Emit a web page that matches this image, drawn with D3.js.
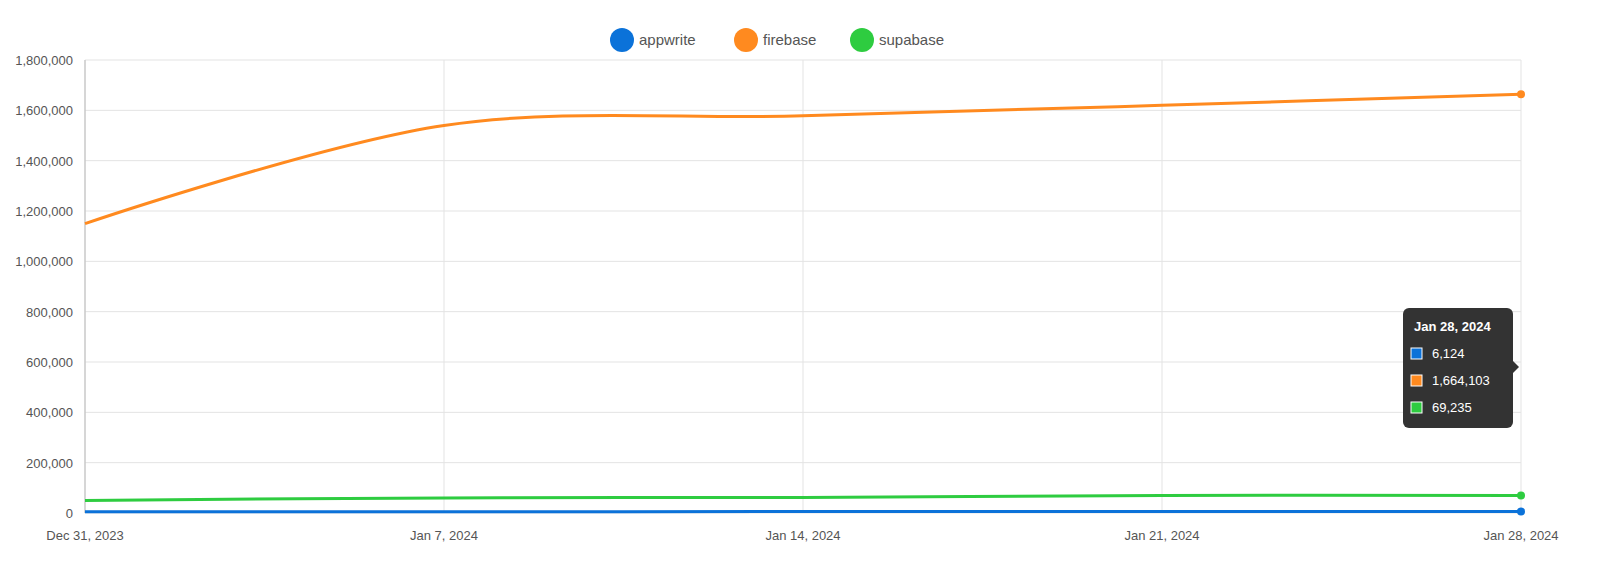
<!DOCTYPE html>
<html><head><meta charset="utf-8">
<script src="https://cdn.jsdelivr.net/npm/d3@7"></script>
<style>body{margin:0;background:#fff;font-family:"Helvetica Neue",Arial,"Liberation Sans",sans-serif;}</style>
</head><body><svg width="1600" height="562"></svg>
<script>
const dates = ["2023-12-31","2024-01-07","2024-01-14","2024-01-21","2024-01-28"];
const seriesNames = ["appwrite","firebase","supabase"];
const colors = ["#0b72d9","#ff8a1f","#2ecc40"];
const appwrite = [4800, 5200, 5600, 6000, 6124];
const firebase = [1150000, 1540000, 1578000, 1620000, 1664103];
const supabase = [50000, 60000, 62000, 70000, 69235];
const yTicks = [0,200000,400000,600000,800000,1000000,1200000,1400000,1600000,1800000];

const parse = d3.timeParse("%Y-%m-%d");
const dts = dates.map(parse);
const values = [appwrite, firebase, supabase];
const svg = d3.select('svg');
const x = d3.scaleTime().domain(d3.extent(dts)).range([85, 1521]);
const y = d3.scaleLinear().domain([0, 1800000]).range([513, 60]);
const fmtDate = d3.timeFormat("%b %-d, %Y");
const fmtNum = d3.format(",");

// grid
svg.append('g').selectAll('line').data(yTicks).join('line')
  .attr('x1', 85).attr('x2', 1521).attr('y1', d => y(d)).attr('y2', d => y(d))
  .attr('stroke', '#e3e3e3');
svg.append('g').selectAll('line').data(dts).join('line')
  .attr('x1', d => x(d)).attr('x2', d => x(d)).attr('y1', 60).attr('y2', 513)
  .attr('stroke', '#e3e3e3');
svg.append('line').attr('x1', 85).attr('x2', 85).attr('y1', 60).attr('y2', 513).attr('stroke', '#bbb');

// axes
svg.append('g').selectAll('text').data(yTicks).join('text')
  .attr('x', 73).attr('y', d => y(d) + 5).attr('text-anchor', 'end')
  .attr('font-size', 13).attr('fill', '#555').text(d => fmtNum(d));
svg.append('g').selectAll('text').data(dts).join('text')
  .attr('x', d => x(d)).attr('y', 540).attr('text-anchor', 'middle')
  .attr('font-size', 13).attr('fill', '#555').text(d => fmtDate(d));

// lines
const line = d3.line().x((d, i) => x(dts[i])).y(d => y(d)).curve(d3.curveCatmullRom);
values.forEach((v, k) => {
  svg.append('path').attr('d', line(v)).attr('fill', 'none')
    .attr('stroke', colors[k]).attr('stroke-width', 3);
  svg.append('circle').attr('cx', x(dts[4])).attr('cy', y(v[4])).attr('r', 4).attr('fill', colors[k]);
});

// legend
const legX = [622, 746, 862];
seriesNames.forEach((n, k) => {
  svg.append('circle').attr('cx', legX[k]).attr('cy', 40).attr('r', 12).attr('fill', colors[k]);
  svg.append('text').attr('x', legX[k] + 17).attr('y', 45).attr('font-size', 15).attr('fill', '#555').text(n);
});

// tooltip
const tt = svg.append('g').attr('transform', 'translate(1403,308)');
tt.append('rect').attr('width', 110).attr('height', 120).attr('rx', 6).attr('fill', '#333');
tt.append('path').attr('d', 'M110,53 L116,59 L110,65 Z').attr('fill', '#333');
tt.append('text').attr('x', 11).attr('y', 23).attr('fill', '#fff').attr('font-size', 13)
  .attr('font-weight', 'bold').text(fmtDate(dts[4]));
values.forEach((v, k) => {
  tt.append('rect').attr('x', 8).attr('y', 40 + k * 27).attr('width', 11).attr('height', 11)
    .attr('fill', colors[k]).attr('stroke', '#fff').attr('stroke-width', 1);
  tt.append('text').attr('x', 29).attr('y', 50 + k * 27).attr('fill', '#fff').attr('font-size', 13)
    .text(fmtNum(v[4]));
});
</script></body></html>
